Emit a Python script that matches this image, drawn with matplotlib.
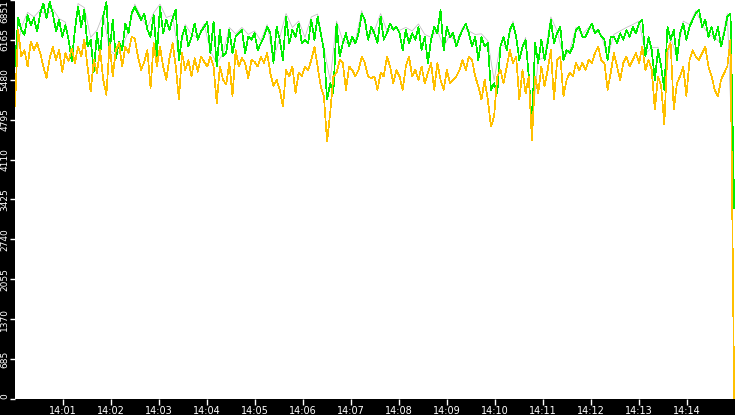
import numpy as np
import pandas as pd
import matplotlib
matplotlib.use("Agg")
import matplotlib.pyplot as plt
import matplotlib.dates as mdates

# values, roughly one sample every ~4 s from 14:00:00
green = [
    5710, 6540, 6340, 6250, 6590, 6420, 6540, 6310, 6620, 6790, 6540, 6820, 6620, 6310, 6510, 6220, 6420, 6170, 5800, 6340,
    6740, 6390, 6680, 6050, 6170, 5620, 6280, 5880, 6570, 6820, 5940, 6510, 5850, 6140, 5990, 6450, 6280, 6620,
    6740, 6620, 6510, 6620, 6340, 6220, 6590, 5880, 6740, 6280, 6510, 6340, 6540, 6680, 5820, 6220, 6390, 6050, 6220, 6450,
    6170, 6310, 6390, 6480, 5940, 6480, 5710, 6340, 5880, 5940, 6340, 5940, 6220, 6280, 6340, 5940, 6220, 6170,
    6280, 5990, 6110, 6220, 6390, 6280, 5770, 6390, 6170, 5820, 6570, 6110, 6340, 6220, 6450, 6110, 6170, 6110, 6510, 6170,
    6570, 6280, 5990, 5140, 5420, 5250, 6450, 5880, 6110, 6280, 6050, 6220, 6110, 6280, 6620, 6510, 6170, 6390,
    6280, 6110, 6570, 6170, 6280, 6450, 6340, 6390, 6280, 5990, 6340, 6110, 6280, 6170, 6390, 5990, 6220, 5770, 6170, 6390,
    6280, 6680, 5990, 6390, 6220, 6280, 6050, 6220, 6340, 6450, 6280, 6050, 6220, 5820, 6220, 6050, 6110, 5310,
    5420, 5250, 6050, 6220, 5990, 6340, 6450, 6220, 5820, 6050, 6170, 5540, 4680, 6110, 5770, 6170, 5820, 6110, 6510, 6110,
    6280, 6390, 5820, 5990, 5940, 6050, 6340, 6390, 6220, 6220, 6340, 6450, 6280, 6340, 6220, 6170, 5820, 6220,
    6220, 6110, 6280, 6170, 6340, 6220, 6390, 6280, 6450, 6510, 5880, 6220, 5990, 5480, 5990, 5710, 5310, 6390, 6170, 6340,
    5820, 6280, 6450, 6170, 6390, 6510, 6620, 6680, 6390, 6510, 6220, 6390, 6170, 6390, 6050, 6280, 6570, 6620,
    3280,
]

orange = [
    5020, 6340, 5880, 5990, 5710, 6140, 5990, 6110, 5940, 5710, 5510, 5850, 6050, 5820, 5990, 5620, 5940, 5800, 6020, 5770,
    6050, 5880, 6170, 5710, 5280, 5820, 5600, 5990, 5480, 5220, 6110, 5540, 5990, 6110, 5710, 6050, 5940, 6220,
    6190, 5880, 5650, 5790, 5990, 5340, 6110, 5710, 6050, 5710, 5480, 5850, 6110, 5710, 5140, 5940, 5650, 5820, 5540, 5850,
    5620, 5880, 5790, 5710, 5880, 5710, 5080, 5710, 5480, 5400, 5770, 5200, 5990, 5710, 5850, 5770, 5510, 5820,
    5790, 5710, 5880, 5770, 5940, 5600, 5370, 5480, 5310, 5020, 5650, 5540, 5710, 5250, 5600, 5540, 5710, 5650, 5820, 6050,
    5710, 5370, 5200, 4420, 4910, 5540, 5600, 5820, 5770, 5310, 5710, 5650, 5540, 5650, 5880, 5770, 5540, 5510,
    5540, 5310, 5600, 5540, 5880, 5710, 5420, 5650, 5540, 5310, 5710, 5880, 5540, 5650, 5480, 5710, 5420, 5600, 5770, 5310,
    5770, 5480, 5310, 5650, 5420, 5480, 5540, 5650, 5820, 5650, 5880, 5820, 5540, 5370, 5140, 5480, 5140, 4680,
    4850, 5540, 5650, 5420, 5710, 5990, 5770, 5880, 5140, 5650, 5250, 5540, 4450, 5540, 5250, 5710, 5370, 5650, 5990, 5140,
    5820, 5880, 5200, 5480, 5600, 5540, 5770, 5650, 5770, 5650, 5820, 5770, 5940, 6050, 5820, 5770, 5310, 5600,
    5940, 5710, 5480, 5770, 5880, 5710, 5820, 5940, 5770, 6050, 5650, 5820, 5650, 4970, 5540, 5370, 4710, 5990, 6110, 4970,
    5420, 5540, 5710, 5200, 5820, 5990, 5880, 5820, 5940, 6050, 5710, 5540, 5310, 5200, 5480, 5600, 5710, 6170,
    0,
]

# gray series, every other sample
gray = [
    5760, 6380, 6640, 6560, 6680, 6580, 6700, 6530, 6470, 5850, 6790, 6720, 6210, 6330, 6610, 5990, 5900, 6040, 6320,
    6780, 6560, 6380, 6630, 6780, 6550, 6590, 5870, 6430, 6260, 6210, 6440, 5980, 5760, 5930, 6380, 6270, 6380, 6260,
    6320, 6150, 6430, 5820, 6210, 6620, 6380, 6490, 6210, 6560, 6610, 6030, 5470, 6490, 6150, 6100, 6150, 6670, 6210,
    6320, 6620, 6320, 6380, 6330, 6380, 6320, 6440, 6260, 6210, 6330, 6040, 6260, 6100, 6380, 6320, 6260, 6270, 6150,
    5470, 6090, 6040, 6490, 5870, 6210, 4730, 5820, 5870, 6560, 6320, 5870, 5980, 6380, 6260, 6380, 6330, 6260, 5870,
    6260, 6320, 6380, 6430, 6490, 5930, 6030, 6040, 5360, 6210, 5870, 6490, 6430, 6670, 6430, 6260, 6210, 6100, 6620,
    3300,
]

ytick_vals = [0, 685.1, 1370.2, 2055.3, 2740.4, 3425.5, 4110.6, 4795.7, 5480.8, 6165.9, 6851]
ytick_labels = ["0", "685", "1370", "2055", "2740", "3425", "4110", "4795", "5480", "6165", "6851"]

start = pd.Timestamp("2024-01-01 14:00:00")
end = pd.Timestamp("2024-01-01 14:15:00")
times = pd.date_range(start, periods=len(green) - 1, freq="3940ms").append(
    pd.DatetimeIndex([pd.Timestamp("2024-01-01 14:14:59")]))
gray_times = times[::2]

fig = plt.figure(figsize=(7.35, 4.15), dpi=100, facecolor="black")
ax = fig.add_axes([15 / 735, 16 / 415, 720 / 735, 399 / 415])
ax.set_facecolor("white")

ax.plot(gray_times, gray, color="#b8b8b8", lw=0.5)
ax.plot(times, green, color="#00ee00", lw=0.5, antialiased=False)
ax.plot(times, orange, color="#ffc000", lw=0.5, antialiased=False)

ax.set_xlim(start, end)
ax.set_ylim(0, 6851)

ax.set_yticks(ytick_vals)
ax.set_yticklabels(ytick_labels, rotation=90, va="center", fontsize=6.5, color="white")
ylabels = ax.get_yticklabels()
ylabels[0].set_va("bottom")
ylabels[-1].set_va("top")

xticks = pd.date_range("2024-01-01 14:01:00", periods=14, freq="1min")
ax.set_xticks(xticks)
ax.xaxis.set_major_formatter(mdates.DateFormatter("%H:%M"))

ax.tick_params(axis="x", colors="white", length=4, width=1, labelsize=7, pad=1)
ax.tick_params(axis="y", colors="white", length=3.5, width=1, labelsize=6.5, pad=0.5)

for s in ax.spines.values():
    s.set_visible(False)

fig.savefig("out.png", dpi=100, facecolor="black")
